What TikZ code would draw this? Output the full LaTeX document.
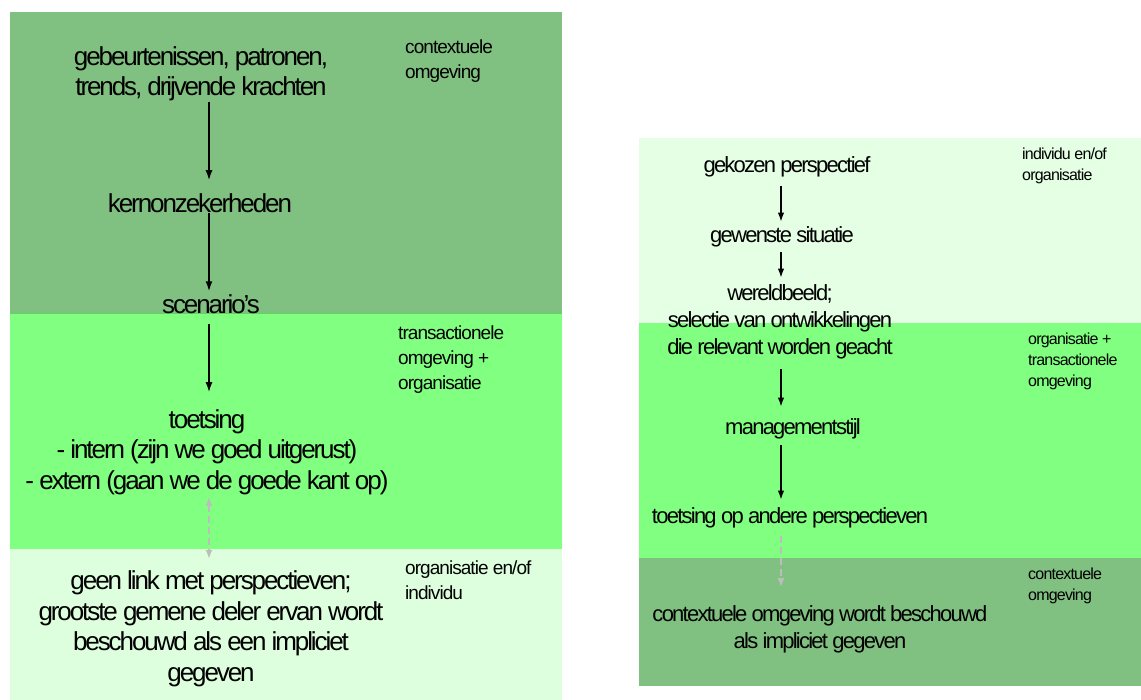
\documentclass[tikz,border=0pt]{standalone}
\usepackage{fontspec}
\setmainfont{Liberation Sans}
\newfontfamily\bigf[LetterSpace=-8]{Liberation Sans}
\newfontfamily\rigf[LetterSpace=-8]{Liberation Sans}
\newfontfamily\labf[LetterSpace=-5]{Liberation Sans}
\usetikzlibrary{arrows.meta}
\definecolor{ctxgreen}{HTML}{80C080}
\definecolor{trgreen}{HTML}{80FF80}
\definecolor{lightL}{HTML}{DDFFDD}
\definecolor{lightR}{HTML}{E4FFE4}
\definecolor{edgegreen}{HTML}{5CD65C}
\definecolor{dashgrey}{HTML}{BDBDBD}
\tikzset{
  bigL/.style={inner sep=0pt, align=center, font=\bigf\fontsize{26}{30.5}\selectfont},
  bigR/.style={inner sep=0pt, align=center, font=\rigf\fontsize{22}{27}\selectfont},
  labL/.style={inner sep=0pt, anchor=north west, align=left, font=\labf\fontsize{19}{25}\selectfont},
  labR/.style={inner sep=0pt, anchor=north west, align=left, font=\labf\fontsize{16}{21}\selectfont},
  arrL/.style={line width=1.5pt, -{Latex[length=10pt,width=7pt]}},
  arrR/.style={line width=1.2pt, -{Latex[length=9pt,width=6.5pt]}},
  dashL/.style={draw=dashgrey, line width=2pt, dash pattern=on 7pt off 4pt, {Latex[length=9pt,width=7pt]}-{Latex[length=9pt,width=7pt]}},
  dashR/.style={draw=dashgrey, line width=1.6pt, dash pattern=on 7pt off 4pt, -{Latex[length=9pt,width=7pt]}}
}
\begin{document}
\begin{tikzpicture}[x=1pt,y=-1pt]
\useasboundingbox (0,0) rectangle (1141,700);
% left panel bands
\fill[ctxgreen] (10,12) rectangle (562,314);
\fill[trgreen] (10,314) rectangle (562,549);
\fill[lightL] (10,549) rectangle (562,700);
\draw[edgegreen, line width=1pt] (10,314) -- (562,314);
% right panel bands
\fill[lightR] (639,138) rectangle (1141,323);
\fill[trgreen] (639,323) rectangle (1141,558);
\fill[ctxgreen] (639,558) rectangle (1141,686);

\coordinate (xL) at (209,0);
\coordinate (xR) at (781,0);

% left column
\node[bigL] (l1) at (201,74) {gebeurtenissen, patronen,\\trends, drijvende krachten};
\node[bigL] (l2) at (200,203) {kernonzekerheden};
\node[bigL] (l3) at (211,304) {scenario’s};
\node[bigL] (l4) at (207,452) {toetsing\\- intern (zijn we goed uitgerust)\\- extern (gaan we de goede kant op)};
\node[bigL] (l5) at (211,629) {geen link met perspectieven;\\grootste gemene deler ervan wordt\\beschouwd als een impliciet\\gegeven};

\node[labL] (ll1) at (405,40) {contextuele\\omgeving};
\node[labL] (ll2) at (398,326) {transactionele\\omgeving +\\organisatie};
\node[labL] (ll3) at (405,561) {organisatie en/of\\individu};

\draw[arrL, shorten <=0pt, shorten >=13pt] (l1.south -| xL) -- (l2.north -| xL);
\draw[arrL, shorten >=3pt] (l2.south -| xL) -- (l3.north -| xL);
\draw[arrL, shorten <=10pt, shorten >=17pt] (l3.south -| xL) -- (l4.north -| xL);
\draw[dashL, shorten <=2pt, shorten >=12pt] (l4.south -| xL) -- (l5.north -| xL);

% right column
\node[bigR] (r1) at (787,167) {gekozen perspectief};
\node[bigR] (r2) at (782,237) {gewenste situatie};
\node[bigR] (r3) at (780,322) {wereldbeeld;\\selectie van ontwikkelingen\\die relevant worden geacht};
\node[bigR] (r4) at (793,429) {managementstijl};
\node[bigR] (r5) at (790,518) {toetsing op andere perspectieven};
\node[bigR] (r6) at (820,629) {contextuele omgeving wordt beschouwd\\als impliciet gegeven};

\node[labR] (rl1) at (1022,148) {individu en/of\\organisatie};
\node[labR] (rl2) at (1028,333) {organisatie +\\transactionele\\omgeving};
\node[labR] (rl3) at (1028,568) {contextuele\\omgeving};

\draw[arrR, shorten <=9pt, shorten >=5pt] (r1.south -| xR) -- (r2.north -| xR);
\draw[arrR, shorten <=5pt, shorten >=7pt] (r2.south -| xR) -- (r3.north -| xR);
\draw[arrR, shorten <=10pt, shorten >=12pt] (r3.south -| xR) -- (r4.north -| xR);
\draw[arrR, shorten <=6pt, shorten >=8pt] (r4.south -| xR) -- (r5.north -| xR);
\draw[dashR, shorten <=8pt, shorten >=18pt] (r5.south -| xR) -- (r6.north -| xR);
\end{tikzpicture}
\end{document}
